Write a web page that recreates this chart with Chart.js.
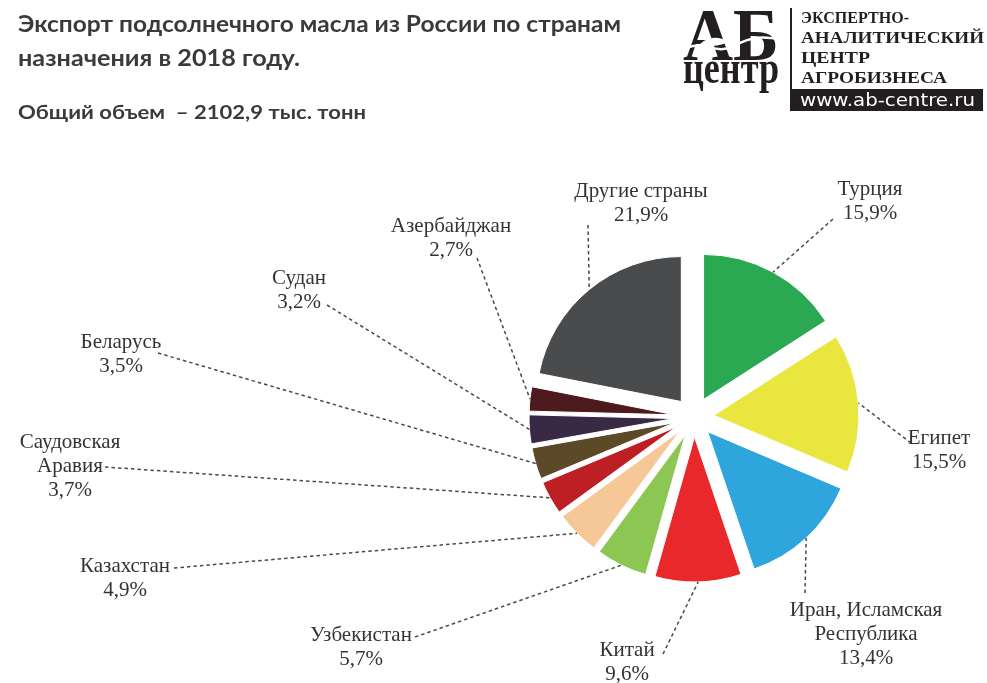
<!DOCTYPE html>
<html lang="ru">
<head>
<meta charset="utf-8">
<title>Экспорт подсолнечного масла из России по странам назначения в 2018 году</title>
<script src="https://cdn.jsdelivr.net/npm/chart.js@4/dist/chart.umd.min.js"></script>
<style>
  html, body { margin: 0; padding: 0; background: #ffffff; }
  #wrap { position: relative; width: 987px; height: 683px; overflow: hidden; }
  #pie { position: absolute; left: 0; top: 0; }
  #head { position: absolute; left: 0; top: 0; pointer-events: none; }
</style>
</head>
<body>
<div id="wrap">
  <canvas id="pie" width="987" height="683"></canvas>
  <svg id="head" width="987" height="683" xmlns="http://www.w3.org/2000/svg">
    <g font-family="Lato, 'Open Sans', sans-serif" font-weight="700" fill="#3a3a3a">
      <text x="18" y="32" font-size="22" textLength="603" lengthAdjust="spacingAndGlyphs">Экспорт подсолнечного масла из России по странам</text>
      <text x="18" y="66" font-size="22" textLength="282" lengthAdjust="spacingAndGlyphs">назначения в 2018 году.</text>
      <text x="18" y="119" font-size="18" textLength="348" lengthAdjust="spacingAndGlyphs">Общий объем&#160;&#160;– 2102,9 тыс. тонн</text>
    </g>
    <!-- logo of the analytic centre -->
    <g fill="#231f20" font-family="'Liberation Serif', serif" font-weight="700">
      <text x="683" y="60" font-size="74" textLength="96" lengthAdjust="spacingAndGlyphs">АБ</text>
      <text x="683" y="83" font-size="46" textLength="96" lengthAdjust="spacingAndGlyphs">центр</text>
      <path d="M 684 50 C 700 38, 716 56, 734 46 S 764 36, 782 40" fill="none" stroke="#ffffff" stroke-width="2.5"/>
      <path d="M 700 44 C 708 36, 720 36, 728 42 C 720 46, 708 48, 700 44 Z" fill="#ffffff"/>
      <rect x="790" y="8" width="2" height="82"/>
      <text x="801" y="23" font-size="16.5" textLength="108" lengthAdjust="spacingAndGlyphs">ЭКСПЕРТНО-</text>
      <text x="801" y="43" font-size="16.5" textLength="183" lengthAdjust="spacingAndGlyphs">АНАЛИТИЧЕСКИЙ</text>
      <text x="801" y="63" font-size="16.5" textLength="69" lengthAdjust="spacingAndGlyphs">ЦЕНТР</text>
      <text x="801" y="83" font-size="16.5" textLength="146" lengthAdjust="spacingAndGlyphs">АГРОБИЗНЕСА</text>
      <rect x="790" y="89" width="193" height="22"/>
      <text x="800" y="106" font-size="17" font-weight="400" font-family="'DejaVu Sans', sans-serif" fill="#ffffff" textLength="175" lengthAdjust="spacingAndGlyphs">www.ab-centre.ru</text>
    </g>
  </svg>
</div>
<script>
// Export destinations, clockwise from 12 o'clock
const countries = [
  'Турция', 'Египет', 'Иран, Исламская Республика', 'Китай', 'Узбекистан',
  'Казахстан', 'Саудовская Аравия', 'Беларусь', 'Судан', 'Азербайджан', 'Другие страны'
];
// Share of total export volume, %
const shares = [15.9, 15.5, 13.4, 9.6, 5.7, 4.9, 3.7, 3.5, 3.2, 2.7, 21.9];
// How each callout name is broken into lines
const labelLines = [
  ['Турция'], ['Египет'], ['Иран, Исламская', 'Республика'], ['Китай'], ['Узбекистан'],
  ['Казахстан'], ['Саудовская', 'Аравия'], ['Беларусь'], ['Судан'], ['Азербайджан'], ['Другие страны']
];

// Slice fills
const sliceColors = [
  '#2aa852', '#e9e63f', '#2ea6dd', '#e8282a', '#8cc653',
  '#f6c797', '#be1f24', '#5b4927', '#382a44', '#4d1b1e', '#4a4b4d'
];

// Callout placement: text centre x, first line centre y, leader start point
const calloutLayout = [
  { x: 870, y: 189, from: [833, 219] },
  { x: 939, y: 438, from: [911, 443] },
  { x: 866, y: 610, from: [805, 593] },
  { x: 627, y: 650, from: [663, 654] },
  { x: 361, y: 635, from: [415, 637] },
  { x: 125, y: 566, from: [174, 568] },
  { x: 70,  y: 442, from: [105, 467] },
  { x: 121, y: 342, from: [158, 353] },
  { x: 299, y: 278, from: [327, 305] },
  { x: 451, y: 226, from: [477, 258] },
  { x: 641, y: 191, from: [588, 225] }
];

const EXPLODE = 20;      // radial shift of every slice, px
const LINE_GAP = 24;     // callout line spacing, px

const fmtPct = v => v.toFixed(1).replace('.', ',') + '%';

// Draw each slice pushed outward along its bisector, keeping its radius unchanged
const explodedSlices = {
  id: 'explodedSlices',
  beforeDatasetDraw(chart, args) {
    const ctx = chart.ctx;
    args.meta.data.forEach(arc => {
      const mid = (arc.startAngle + arc.endAngle) / 2;
      ctx.save();
      ctx.translate(Math.cos(mid) * EXPLODE, Math.sin(mid) * EXPLODE);
      arc.draw(ctx);
      ctx.restore();
    });
    return false;
  }
};

// Dashed leaders and the country / percent callouts
const callouts = {
  id: 'callouts',
  afterDatasetsDraw(chart) {
    const ctx = chart.ctx;
    const arcs = chart.getDatasetMeta(0).data;
    ctx.save();
    ctx.strokeStyle = '#4a4a4a';
    ctx.lineWidth = 1.5;
    ctx.setLineDash([3.5, 3]);
    arcs.forEach((arc, i) => {
      const mid = (arc.startAngle + arc.endAngle) / 2;
      const reach = arc.outerRadius + EXPLODE;
      const ex = arc.x + Math.cos(mid) * reach;
      const ey = arc.y + Math.sin(mid) * reach;
      const [sx, sy] = calloutLayout[i].from;
      ctx.beginPath();
      ctx.moveTo(sx, sy);
      ctx.lineTo(ex, ey);
      ctx.stroke();
    });
    ctx.setLineDash([]);
    ctx.fillStyle = '#333333';
    ctx.font = '21px "Liberation Serif", "Times New Roman", serif';
    ctx.textAlign = 'center';
    ctx.textBaseline = 'middle';
    arcs.forEach((arc, i) => {
      const pos = calloutLayout[i];
      const lines = labelLines[i].concat([fmtPct(shares[i])]);
      lines.forEach((t, k) => ctx.fillText(t, pos.x, pos.y + k * LINE_GAP));
    });
    ctx.restore();
  }
};

new Chart(document.getElementById('pie'), {
  type: 'pie',
  data: {
    labels: countries,
    datasets: [{
      data: shares,
      backgroundColor: sliceColors,
      borderColor: '#ffffff',
      borderWidth: 1,
      radius: 145
    }]
  },
  options: {
    responsive: false,
    devicePixelRatio: 1,
    animation: false,
    rotation: 0,
    layout: { padding: { left: 534, right: 133, top: 257, bottom: 106 } },
    plugins: {
      legend: { display: false },
      tooltip: { enabled: false }
    }
  },
  plugins: [explodedSlices, callouts]
});
</script>
</body>
</html>
